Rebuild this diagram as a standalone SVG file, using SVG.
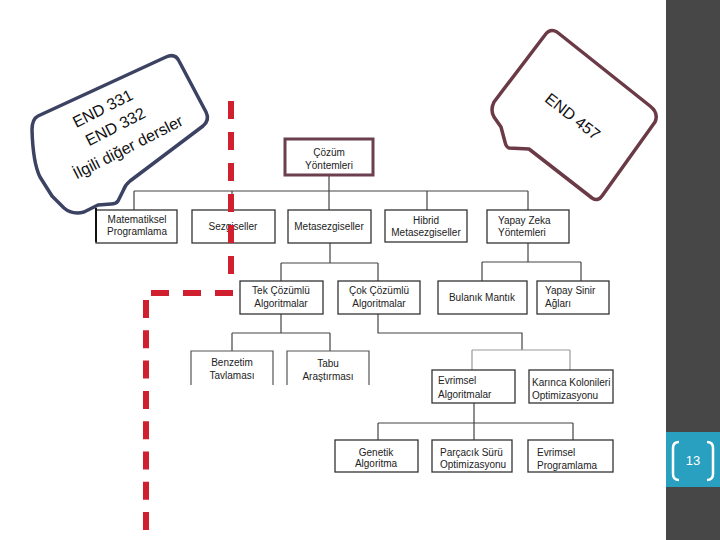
<svg xmlns="http://www.w3.org/2000/svg" width="720" height="540" viewBox="0 0 720 540">
<style>
.box{fill:#fff;stroke:#333;stroke-width:1.3}
.open{fill:none;stroke:#555;stroke-width:1.2}
.t{font-family:"Liberation Sans",Arial,sans-serif;font-size:10px;fill:#222}
.c{text-anchor:middle}
.ln{fill:none;stroke:#444;stroke-width:1.2}
.lt{fill:none;stroke:#999;stroke-width:1.2}
.red{fill:none;stroke:#d0202f;stroke-width:6}
.call{font-family:"Liberation Sans",Arial,sans-serif;font-size:16px;fill:#111;text-anchor:middle}
</style>
<rect x="0" y="0" width="720" height="540" fill="#fff"/>
<rect x="666" y="0" width="54" height="540" fill="#474747"/>
<g id="page-number">
<rect x="666" y="432" width="54" height="55" fill="#2aa0c0"/>
<path d="M679,442 Q673,442 673,448 V474 Q673,480 679,480" fill="none" stroke="#fff" stroke-width="2.5"/>
<path d="M707,442 Q713,442 713,448 V474 Q713,480 707,480" fill="none" stroke="#fff" stroke-width="2.5"/>
<text x="693" y="465" font-family="Liberation Sans,Arial,sans-serif" font-size="13" fill="#fff" text-anchor="middle">13</text>
</g>

<g id="callout-left">
<path d="M38,116 L166,57 Q175,53 179,61 L206,112 Q210,120 203,126 L130,181 Q125,185 123,191 L118,201 Q116,204 111,204 L98,205 L84,212 Q72,215 64,208 L52,196 L40,177 Q33,163 32,130 Q32,119 38,116 Z" fill="#fff" stroke="#3c4262" stroke-width="3.5" stroke-linejoin="round"/>
<g transform="rotate(-27 116 128)">
<text class="call" x="113" y="110">END 331</text>
<text class="call" x="116" y="132">END 332</text>
<text class="call" x="118" y="156">İlgili diğer dersler</text>
</g>
</g>

<g id="callout-right">
<path d="M545,35 Q550,28 557,32 L650,106 Q659,113 655,122 L602,196 Q598,202 592,198 L529,149 L509,148 Q506,147 505,142 L501,127 L494,117 Q490,110 494,102 Z" fill="#fff" stroke="#6b3a47" stroke-width="3.5" stroke-linejoin="round"/>
<text class="call" x="573" y="122" transform="rotate(38 573 116)">END 457</text>
</g>

<g id="connectors">
<path class="ln" d="M329,175 V210 M134,191 H528 M134,191 V210 M232,191 V210 M427,191 V210 M528,191 V210"/>
<path class="ln" d="M330,243 V263 M281,263 H378 M281,263 V281 M378,263 V281"/>
<path class="ln" d="M528,243 V262 M482,262 H581 M482,262 V281 M581,262 V281"/>
<path class="ln" d="M281,314 V333 M232,333 H330 M232,333 V351 M330,333 V351"/>
<path class="ln" d="M378,314 V333 H522 V350"/>
<path class="lt" d="M472,350 H570 M472,350 V370 M570,350 V370"/>
<path class="ln" d="M474,403 V440 M378,423 H573 M378,423 V440 M573,423 V440"/>
</g>

<g id="root"><rect x="285" y="139" width="88" height="36" fill="#fff" stroke="#6b3f4f" stroke-width="3"/>
<text class="t c" x="329" y="156">Çözüm</text><text class="t c" x="329" y="169">Yöntemleri</text></g>

<g id="matematiksel"><rect class="box" x="96" y="210" width="81" height="33"/><path d="M96,208 V242" stroke="#111" stroke-width="2"/>
<text class="t c" x="137" y="223">Matematiksel</text><text class="t c" x="137" y="235">Programlama</text></g>
<g id="sezgiseller"><rect class="box" x="192" y="210" width="83" height="33"/>
<text class="t c" x="233" y="230">Sezgiseller</text></g>
<g id="metasezgiseller"><rect class="box" x="288" y="210" width="83" height="33"/>
<text class="t c" x="329" y="230">Metasezgiseller</text></g>
<g id="hibrid"><rect class="box" x="385" y="210" width="82" height="32"/>
<text class="t c" x="426" y="224">Hibrid</text><text class="t c" x="426" y="236">Metasezgiseller</text></g>
<g id="yapay-zeka"><rect class="box" x="487" y="210" width="82" height="33"/>
<text class="t" x="498" y="224">Yapay Zeka</text><text class="t" x="498" y="236">Yöntemleri</text></g>

<g id="tek"><rect class="box" x="240" y="281" width="83" height="33"/>
<text class="t c" x="281" y="294">Tek Çözümlü</text><text class="t c" x="281" y="307">Algoritmalar</text></g>
<g id="cok"><rect class="box" x="338" y="281" width="82" height="33"/>
<text class="t c" x="379" y="294">Çok Çözümlü</text><text class="t c" x="379" y="307">Algoritmalar</text></g>
<g id="bulanik"><rect class="box" x="438" y="281" width="89" height="33"/>
<text class="t c" x="482" y="301">Bulanık Mantık</text></g>
<g id="yapay-sinir"><rect class="box" x="537" y="281" width="72" height="33"/>
<text class="t" x="545" y="294">Yapay Sinir</text><text class="t" x="545" y="307">Ağları</text></g>

<g id="benzetim"><path class="open" d="M191,385 V351 H273 V385"/>
<text class="t c" x="232" y="366">Benzetim</text><text class="t c" x="232" y="379">Tavlaması</text></g>
<g id="tabu"><path class="open" d="M287,385 V351 H369 V385"/>
<text class="t c" x="328" y="367">Tabu</text><text class="t c" x="328" y="380">Araştırması</text></g>

<g id="evrimsel-alg"><rect class="box" x="432" y="370" width="83" height="33"/>
<text class="t" x="438" y="384">Evrimsel</text><text class="t" x="438" y="398">Algoritmalar</text></g>
<g id="karinca"><rect class="box" x="529" y="370" width="84" height="33"/>
<text class="t" x="532" y="386">Karınca Kolonileri</text><text class="t" x="532" y="399">Optimizasyonu</text></g>

<g id="genetik"><rect class="box" x="335" y="440" width="83" height="32"/>
<text class="t c" x="376" y="456">Genetik</text><text class="t c" x="376" y="467">Algoritma</text></g>
<g id="parcacik"><rect class="box" x="432" y="440" width="80" height="32"/>
<text class="t" x="440" y="456">Parçacık Sürü</text><text class="t" x="440" y="468">Optimizasyonu</text></g>
<g id="evrimsel-prog"><rect class="box" x="528" y="440" width="85" height="32"/>
<text class="t" x="537" y="456">Evrimsel</text><text class="t" x="537" y="469">Programlama</text></g>

<g id="red-dashes">
<path class="red" d="M231,101 V276" stroke-dasharray="18 13"/>
<path class="red" d="M233,293 H151" stroke-dasharray="18 14"/>
<path class="red" d="M146,300 V530" stroke-dasharray="18 12.3"/>
</g>
</svg>
